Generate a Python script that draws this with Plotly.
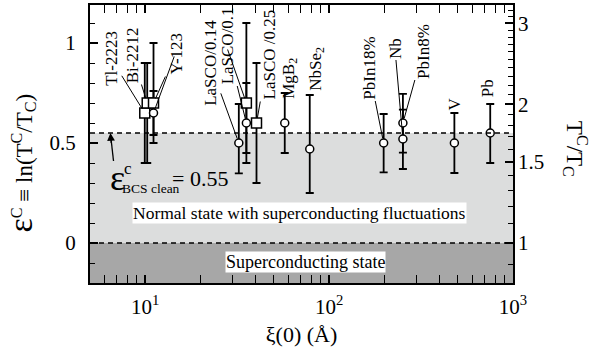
import numpy as np
import plotly.graph_objects as go

# Data
materials = ["Tl-2223", "Bi-2212", "Y-123", "Y-123", "LaSCO/0.14", "LaSCO/0.1", "LaSCO/0.1",
             "LaSCO /0.25", "MgB2", "NbSe2", "PbIn18%", "Nb", "PbIn8%", "V", "Pb"]
xi = [9.95, 10.26, 11.1, 11.1, 32.3, 35.5, 35.5, 40.3, 57.4, 78.5, 198, 252, 252, 480, 752]
eps = [0.65, 0.70, 0.70, 0.65, 0.50, 0.70, 0.60, 0.60, 0.60, 0.47, 0.50, 0.52, 0.60, 0.50, 0.55]
eps_hi = [0.90, 0.90, 1.00, 0.76, 0.695, 1.10, 0.80, 0.90, 0.75, 0.74, 0.645, 0.667, 0.746, 0.65, 0.695]
eps_lo = [0.40, 0.40, 0.50, 0.54, 0.348, 0.40, 0.45, 0.30, 0.45, 0.25, 0.353, 0.37, 0.452, 0.35, 0.40]
kind = ["square", "square", "square", "circle", "circle", "square", "circle", "square",
        "circle", "circle", "circle", "circle", "circle", "circle", "circle"]

eps_bcs = 0.55
y_range = [-0.2, 1.19]
x_ticks = [10, 100, 1000]
x_ticktext = ["10<sup>1</sup>", "10<sup>2</sup>", "10<sup>3</sup>"]
x_minor = [5, 6, 7, 8, 9, 20, 30, 40, 50, 60, 70, 80, 90, 200, 300, 400, 500, 600, 700, 800, 900]
ratio_ticks = [1, 1.5, 2, 3]
ratio_minor = [0.9, 1.1, 1.2, 1.3, 1.4, 1.6, 1.7, 1.8, 1.9, 2.1, 2.2, 2.3, 2.4, 2.5, 2.6, 2.7,
               2.8, 2.9, 3.1, 3.2]

FONT = "Liberation Serif"
LABEL_SIZE = 17

# label placement: (data index, text, ax, ay)
leaders = [
    (0, "Tl-2223", -34, -55),
    (1, "Bi-2212", -15, -48),
    (2, "Y-123", 22, -49),
    (3, " ", 22, -60),
    (4, "LaSCO/0.14", -29, -80),
    (6, "LaSCO/0.1", -19, -77),
    (5, " ", -20, -57),
    (7, "LaSCO /0.25", 12, -68),
    (10, "PbIn18%", -15, -75),
    (11, "Nb", -8, -91),
    (12, "PbIn8%", 20, -72),
]
plain = [
    (8, "MgB<sub>2</sub>", 5, 45),
    (9, "NbSe<sub>2</sub>", 7, 80),
    (13, "V", 0, 39),
    (14, "Pb", -3, 45),
]

fig = go.Figure()

# error bars first so that markers sit on top
fig.add_trace(go.Scatter(
    x=xi, y=eps, mode="markers",
    marker=dict(size=2, opacity=0),
    error_y=dict(type="data", symmetric=False,
                 array=[h - e for h, e in zip(eps_hi, eps)],
                 arrayminus=[e - l for e, l in zip(eps, eps_lo)],
                 color="black", thickness=1.8, width=4),
    showlegend=False, hoverinfo="skip"))

for k, sym, size in [("square", "square", 10), ("circle", "circle", 8)]:
    idx = [i for i, s in enumerate(kind) if s == k]
    fig.add_trace(go.Scatter(
        x=[xi[i] for i in idx], y=[eps[i] for i in idx],
        mode="markers", text=[materials[i] for i in idx],
        marker=dict(symbol=sym, size=size, color="white", line=dict(color="black", width=1.5)),
        showlegend=False))

# dummy trace for right axis
fig.add_trace(go.Scatter(x=[xi[0]], y=[np.exp(eps[0])], yaxis="y2", mode="markers",
                         marker=dict(opacity=0), showlegend=False, hoverinfo="skip"))

# regions
fig.add_shape(type="rect", xref="paper", yref="y", x0=0, x1=1, y0=0, y1=eps_bcs,
              fillcolor="#dcdddd", line_width=0, layer="below")
fig.add_shape(type="rect", xref="paper", yref="y", x0=0, x1=1, y0=y_range[0], y1=0,
              fillcolor="#a7a7a7", line_width=0, layer="below")
for yv in [eps_bcs, 0]:
    fig.add_shape(type="line", xref="paper", yref="y", x0=0, x1=1, y0=yv, y1=yv,
                  line=dict(color="black", width=1.3, dash="5px,4px"))
# shaft of the arrow pointing at the BCS line
fig.add_shape(type="line", xref="paper", yref="y", x0=0.0556, y0=0.41, x1=0.0492, y1=0.53,
              line=dict(color="black", width=1.3))

annotations = []
for i, txt, ax, ay in leaders:
    annotations.append(dict(
        x=np.log10(xi[i]), y=eps[i], xref="x", yref="y", text=txt, textangle=-90,
        showarrow=True, arrowhead=0, arrowwidth=1, arrowcolor="black", standoff=5,
        ax=ax, ay=ay, font=dict(family=FONT, size=LABEL_SIZE, color="black")))
for i, txt, xs, ys in plain:
    annotations.append(dict(
        x=np.log10(xi[i]), y=eps[i], xref="x", yref="y", text=txt, textangle=-90,
        showarrow=False, xshift=xs, yshift=ys,
        font=dict(family=FONT, size=LABEL_SIZE, color="black")))

# BCS clean label
annotations += [
    dict(x=0.811, y=eps_bcs, xref="x", yref="y", text=" ", showarrow=True, arrowhead=2,
         arrowsize=1.2, arrowwidth=1.3, arrowcolor="black", ax=1, ay=12, standoff=0,
         font=dict(size=1)),
    dict(x=0.849, y=0.327, xref="x", yref="y", text="ε", showarrow=False,
         font=dict(family=FONT, size=36, color="black")),
    dict(x=0.909, y=0.375, xref="x", yref="y", text="c", showarrow=False,
         font=dict(family=FONT, size=17, color="black")),
    dict(x=1.029, y=0.272, xref="x", yref="y", text="BCS clean", showarrow=False,
         font=dict(family=FONT, size=13.5, color="black")),
    dict(x=1.30, y=0.325, xref="x", yref="y", text="= 0.55", showarrow=False,
         font=dict(family=FONT, size=22, color="black")),
    dict(x=1.8386, y=0.151, xref="x", yref="y",
         text="Normal state with superconducting fluctuations", showarrow=False,
         bgcolor="white", borderpad=0, font=dict(family=FONT, size=17.5, color="black")),
    dict(x=1.871, y=-0.097, xref="x", yref="y", text="Superconducting state", showarrow=False,
         bgcolor="white", borderpad=0, font=dict(family=FONT, size=18, color="black")),
    # axis titles
    dict(x=-0.163, y=0.43, xref="paper", yref="paper", textangle=-90, showarrow=False,
         xanchor="center", yanchor="middle",
         text="<span style='font-size:34px'>ε</span><sup>C</sup> ≡ ln(T<sup>C</sup>/T<sub>C</sub>)",
         font=dict(family=FONT, size=23, color="black")),
    dict(x=1.148, y=0.484, xref="paper", yref="paper", textangle=90, showarrow=False,
         xanchor="center", yanchor="middle",
         text="T<sup>C</sup>/T<sub>C</sub>", font=dict(family=FONT, size=23, color="black")),
]

fig.update_layout(
    width=599, height=352,
    margin=dict(l=90, r=86, t=3, b=69),
    paper_bgcolor="white", plot_bgcolor="white",
    font=dict(family=FONT, size=21, color="black"),
    annotations=annotations,
    xaxis=dict(
        type="log", range=[0.7, 3], tickvals=x_ticks, ticktext=x_ticktext,
        ticks="inside", ticklen=8, tickwidth=1.5, tickcolor="black",
        showline=True, linewidth=2, linecolor="black", mirror="allticks",
        showgrid=False, zeroline=False, ticklabelstandoff=4,
        minor=dict(tickvals=x_minor, ticks="inside", ticklen=4, tickwidth=1.2, tickcolor="black"),
        title=dict(text="ξ(0) (Å)", font=dict(size=22), standoff=8),
    ),
    yaxis=dict(
        range=y_range, tickvals=[0, 0.5, 1], ticktext=["0", "0.5", "1"],
        ticks="inside", ticklen=8, tickwidth=1.5, tickcolor="black",
        showline=True, linewidth=2, linecolor="black", mirror=True,
        showgrid=False, zeroline=False, ticklabelstandoff=8,
        minor=dict(dtick=0.1, tick0=0, ticks="inside", ticklen=5, tickwidth=1.2, tickcolor="black"),
    ),
    yaxis2=dict(
        type="log", overlaying="y", side="right",
        range=[np.log10(np.exp(y_range[0])), np.log10(np.exp(y_range[1]))],
        tickvals=ratio_ticks, ticktext=["1", "1.5", "2", "3"],
        ticks="inside", ticklen=8, tickwidth=1.5, tickcolor="black",
        showline=False, showgrid=False, zeroline=False, ticklabelstandoff=4,
        minor=dict(tickvals=ratio_minor, ticks="inside", ticklen=5, tickwidth=1.2, tickcolor="black"),
    ),
)

fig.write_html("out.html", config={"displayModeBar": False},
               post_script="document.body.style.margin='0';")
